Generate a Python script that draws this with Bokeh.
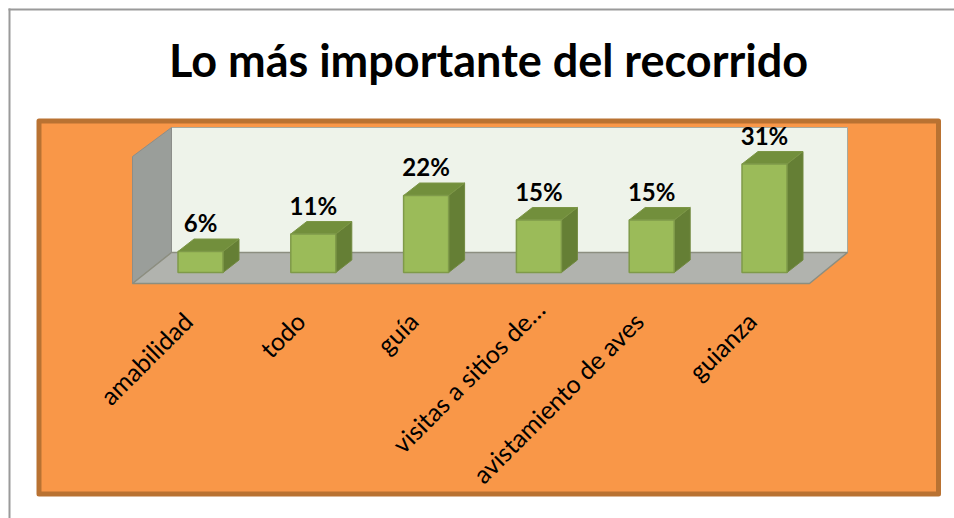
from bokeh.plotting import figure
from bokeh.models import Range1d
from bokeh.core.properties import value
from bokeh.embed import file_html
from bokeh.resources import INLINE

categories = ["amabilidad", "todo", "guía", "visitas a sitios de…", "avistamiento de aves", "guianza"]
shares = [6, 11, 22, 15, 15, 31]
title_text = "Lo más importante del recorrido"

# Layout: one category step and one percent, in screen pixels
STEP, UNIT = 112.8, 3.5
X0, Y0 = 200.0, 272.0
W, H = 954, 518
BAR_W = 45 / STEP
DX, DY = 16 / STEP, 12.5 / UNIT


def X(px):
    return (px - X0) / STEP


def Y(py):
    return (Y0 - py) / UNIT


p = figure(width=W, height=H, output_backend="svg", toolbar_location=None,
           x_range=Range1d(X(0), X(W)), y_range=Range1d(Y(H), Y(0)),
           x_axis_location=None, y_axis_location=None, min_border=0,
           background_fill_color="white", border_fill_color="white", outline_line_color=None)
p.grid.visible = False

# Outer frame (left and top edges fall inside the picture)
p.quad(left=X(8), right=X(10), top=Y(8), bottom=Y(H), fill_color="#9A9A9A", line_color=None)
p.quad(left=X(8), right=X(W), top=Y(8), bottom=Y(10), fill_color="#9A9A9A", line_color=None)

# Chart panel
p.quad(left=X(38.5), right=X(938), top=Y(120.5), bottom=Y(493.5), fill_color="#F99748",
       line_color="#B97232", line_width=5, line_join="round")

# 3D walls and floor
p.patch([X(171), X(847), X(847), X(171)], [Y(127), Y(127), Y(252), Y(252)],
        fill_color="#EEF3EA", line_color="#A8AA9F", line_width=1)
p.patch([X(132), X(171), X(171), X(132)], [Y(156), Y(127), Y(252), Y(283)],
        fill_color="#9A9E9A", line_color="#8C8E8A", line_width=1)
p.patch([X(132), X(171), X(847), X(809)], [Y(283), Y(252), Y(252), Y(283)],
        fill_color="#B1B3AE", line_color="#8C8E80", line_width=1.5)

# Bars: side, top and front faces, all from the data
xs = list(range(len(shares)))
lefts = [i - BAR_W / 2 for i in xs]
rights = [i + BAR_W / 2 for i in xs]
zeros = [0 for _ in xs]

p.patches([[r, r + DX, r + DX, r] for r in rights],
          [[0, DY, v + DY, v] for v in shares],
          fill_color="#657F35", line_color="#71893F", line_width=1)
p.patches([[l, l + DX, r + DX, r] for l, r in zip(lefts, rights)],
          [[v, v + DY, v + DY, v] for v in shares],
          fill_color="#728F3C", line_color="#7C9646", line_width=1)
p.quad(left=lefts, right=rights, bottom=zeros, top=shares,
       fill_color="#9BBB59", line_color="#7F9A49", line_width=1.5)

# Value labels
p.text(x=xs, y=shares, text=[f"{v}%" for v in shares], text_align="center", text_baseline="alphabetic",
       y_offset=-29, text_font=value("Lato"), text_font_style="bold", text_font_size="24px", text_color="black")

# Category labels (the truncated label sits a little further along its diagonal)
p.text(x=xs, y=[Y(316)] * len(xs), text=categories, angle=0.785398,
       text_align="right", text_baseline="middle",
       x_offset=[-13, -13, -13, 1, -13, -13], y_offset=[0, 0, 0, -12, 0, 0],
       text_font=value("Lato"), text_font_size="25px", text_color="black")

# Title
p.text(x=[X(488)], y=[Y(59)], text=[title_text], text_align="center", text_baseline="alphabetic",
       text_font=value("Lato"), text_font_style="bold", text_font_size="45px", text_color="black")

open("out.html", "w").write(file_html(p, INLINE))
